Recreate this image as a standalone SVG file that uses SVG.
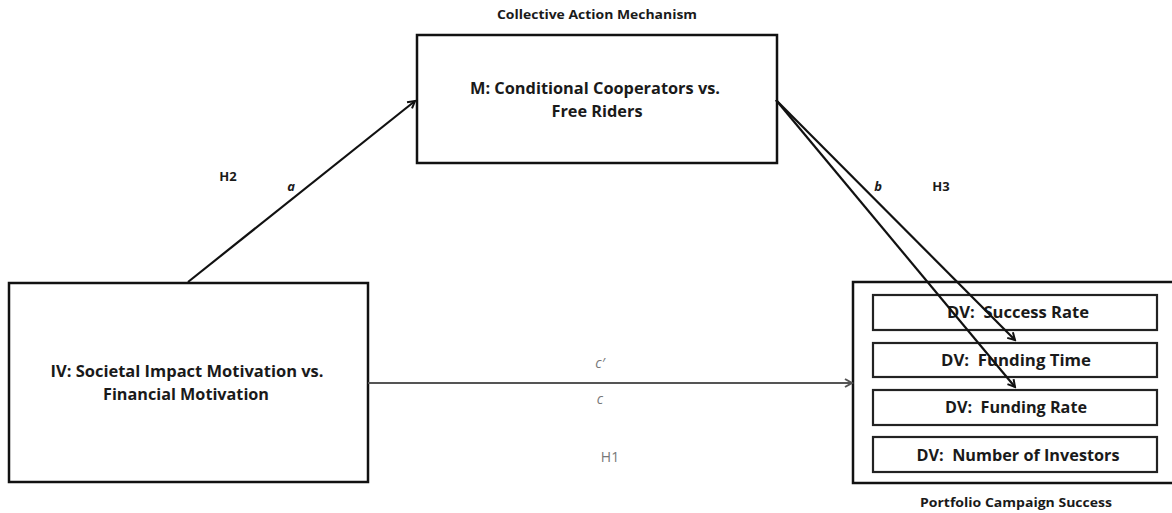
<svg xmlns="http://www.w3.org/2000/svg" width="1172" height="513" viewBox="0 0 1172 513">
<style>
.box{fill:#fff;stroke:#111;stroke-width:2.5}
.inner{fill:#fff;stroke:#222;stroke-width:2.2}
.t{font-family:"Open Sans","Liberation Sans",sans-serif;font-weight:bold;fill:#1a1a1a;text-anchor:middle;white-space:pre}
.main{font-size:16px}
.dv{font-size:16px}
.cap{font-size:11.5px}
.lab{font-family:"Open Sans","Liberation Sans",sans-serif;font-size:13px;font-weight:bold;fill:#1a1a1a;text-anchor:middle}
.gl{font-family:"Open Sans","Liberation Sans",sans-serif;font-size:14px;fill:#777;text-anchor:middle}
.edge{stroke:#111;stroke-width:2.2;fill:none}
.gedge{stroke:#555;stroke-width:2;fill:none}
</style>
<defs>
<marker id="ah" markerWidth="10" markerHeight="10" refX="8" refY="5" orient="auto" markerUnits="userSpaceOnUse">
<path d="M1,1 L8,5 L1,9" fill="none" stroke="#111" stroke-width="2"/>
</marker>
<marker id="ahg" markerWidth="10" markerHeight="10" refX="8" refY="5" orient="auto" markerUnits="userSpaceOnUse">
<path d="M1,1 L8,5 L1,9" fill="none" stroke="#555" stroke-width="2"/>
</marker>
</defs>
<rect width="1172" height="513" fill="#fff"/>
<g id="labels">
<text class="t cap" x="597" y="19" textLength="200" lengthAdjust="spacingAndGlyphs">Collective Action Mechanism</text>
<text class="t cap" x="1016" y="507" textLength="192" lengthAdjust="spacingAndGlyphs">Portfolio Campaign Success</text>
</g>
<g id="node-m">
<rect class="box" x="417" y="35" width="360" height="128"/>
<text class="t main" x="595" y="94" textLength="250" lengthAdjust="spacingAndGlyphs">M: Conditional Cooperators vs.</text>
<text class="t main" x="597" y="117" textLength="91" lengthAdjust="spacingAndGlyphs">Free Riders</text>
</g>
<g id="node-iv">
<rect class="box" x="9" y="283" width="359" height="199"/>
<text class="t main" x="187" y="377" textLength="273" lengthAdjust="spacingAndGlyphs">IV: Societal Impact Motivation vs.</text>
<text class="t main" x="186" y="400" textLength="166" lengthAdjust="spacingAndGlyphs">Financial Motivation</text>
</g>
<g id="node-dv">
<rect class="box" x="853" y="282" width="330" height="201"/>
<g id="dv1"><rect class="inner" x="873" y="295" width="284" height="35"/><text class="t dv" x="1018" y="318" textLength="142" lengthAdjust="spacingAndGlyphs">DV:  Success Rate</text></g>
<g id="dv2"><rect class="inner" x="873" y="343" width="284" height="34"/><text class="t dv" x="1016" y="366" textLength="150" lengthAdjust="spacingAndGlyphs">DV:  Funding Time</text></g>
<g id="dv3"><rect class="inner" x="873" y="390" width="284" height="35"/><text class="t dv" x="1016" y="413" textLength="142" lengthAdjust="spacingAndGlyphs">DV:  Funding Rate</text></g>
<g id="dv4"><rect class="inner" x="873" y="437" width="284" height="35"/><text class="t dv" x="1018" y="461" textLength="203" lengthAdjust="spacingAndGlyphs">DV:  Number of Investors</text></g>
</g>
<g id="connectors">
<line class="edge" x1="188" y1="282" x2="415" y2="101" marker-end="url(#ah)"/>
<line class="edge" x1="776" y1="100" x2="1015" y2="340" marker-end="url(#ah)"/>
<line class="edge" x1="776" y1="100" x2="1015" y2="387" marker-end="url(#ah)"/>
<line class="gedge" x1="368" y1="383" x2="852" y2="383" marker-end="url(#ahg)"/>
<text class="lab" x="228" y="181">H2</text>
<text class="lab" x="291" y="191" font-style="italic">a</text>
<text class="lab" x="878" y="191" font-style="italic">b</text>
<text class="lab" x="941" y="191">H3</text>
<text class="gl" x="600" y="368" font-style="italic">c′</text>
<text class="gl" x="600" y="404" font-style="italic">c</text>
<text class="gl" x="610" y="462">H1</text>
</g>
</svg>
